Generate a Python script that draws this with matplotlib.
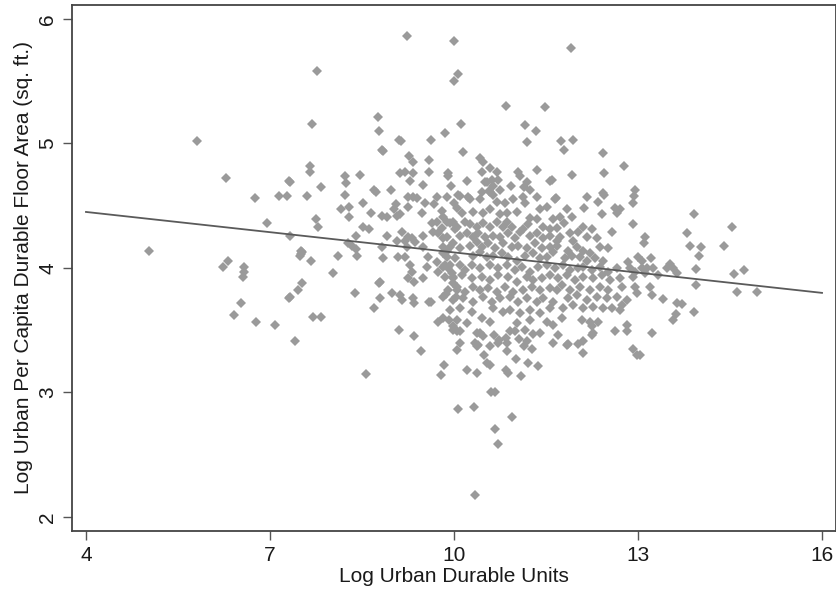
import matplotlib
matplotlib.use("Agg")
import matplotlib.pyplot as plt

# Values
log_durable_units = [
    5.03, 5.81, 6.28, 6.76, 7.15, 7.28, 7.31, 6.95,
    6.32, 6.23, 6.58, 6.58, 6.56, 7.51, 7.51, 7.52,
    7.46, 7.31, 6.53, 6.41, 6.77, 7.08, 7.41, 7.77,
    7.69, 7.65, 7.65, 7.33, 7.83, 8.22, 8.24, 8.22,
    8.47, 8.70, 8.73, 8.97, 9.23, 10.00, 10.07, 10.00,
    8.76, 8.78, 8.83, 9.10, 9.14, 9.27, 9.33, 9.59,
    9.62, 9.85, 10.11, 10.15, 9.12, 9.20, 9.33, 9.28,
    9.59, 9.50, 9.90, 9.90, 9.95, 10.21, 10.42, 10.47,
    10.46, 10.54, 10.46, 10.57, 7.60, 9.25, 9.33, 9.72,
    9.89, 10.10, 10.23, 11.91, 10.85, 11.48, 11.16, 11.34,
    11.19, 11.74, 11.94, 11.79, 12.43, 12.77, 11.35, 11.04,
    11.08, 11.92, 12.45, 11.57, 10.93, 10.75, 11.19, 11.14,
    11.24, 12.95, 12.94, 12.45, 12.17, 11.66, 10.59, 10.70,
    10.62, 10.72, 10.51, 10.64, 10.59, 13.91, 13.80, 14.53,
    13.85, 14.03, 14.00, 14.40, 13.11, 13.10, 13.21, 13.07,
    13.07, 13.15, 13.25, 13.11, 13.33, 13.47, 13.52, 13.57,
    13.64, 13.95, 13.95, 14.57, 14.73, 14.61, 14.94, 13.20,
    13.23, 13.41, 13.64, 13.72, 13.62, 13.57, 13.91, 13.23,
    13.03, 8.84, 8.16, 8.29, 8.29, 8.52, 8.65, 8.83,
    8.91, 9.05, 9.02, 9.07, 9.12, 9.40, 9.25, 9.48,
    9.53, 9.67, 10.00, 9.80, 9.82, 9.72, 9.89, 7.75,
    7.78, 8.52, 8.62, 8.91, 8.40, 8.27, 8.34, 8.40,
    8.42, 7.33, 7.52, 7.49, 7.67, 8.11, 8.03, 8.83,
    8.84, 9.07, 9.15, 9.20, 9.25, 9.32, 9.36, 9.23,
    9.09, 9.20, 9.28, 9.32, 9.25, 9.35, 9.50, 9.56,
    9.58, 9.50, 9.50, 9.64, 9.66, 9.74, 9.82, 9.80,
    9.98, 10.02, 9.89, 9.93, 9.82, 9.72, 9.74, 9.85,
    9.90, 9.97, 9.98, 9.98, 10.05, 9.87, 10.03, 8.79,
    8.78, 8.39, 8.79, 8.70, 8.99, 9.12, 9.15, 9.33,
    9.35, 9.59, 9.62, 7.33, 7.70, 7.83, 8.57, 9.10,
    9.35, 9.46, 9.74, 9.92, 9.98, 10.05, 10.05, 9.84,
    9.79, 10.21, 10.38, 10.10, 10.38, 10.42, 10.47, 10.34,
    10.39, 10.38, 10.65, 10.73, 10.72, 10.85, 11.00, 11.06,
    11.29, 11.14, 11.27, 10.86, 10.49, 10.54, 10.59, 11.01,
    11.21, 11.37, 10.85, 10.88, 11.09, 11.70, 11.84, 12.02,
    12.10, 12.10, 12.25, 12.63, 12.82, 12.92, 12.98, 10.60,
    10.67, 10.07, 10.33, 10.95, 10.67, 10.72, 10.34, 10.07,
    10.26, 10.42, 10.64, 10.70, 10.83, 10.96, 11.13, 11.16,
    11.35, 11.65, 11.40, 11.52, 10.05, 10.13, 10.31, 10.47,
    10.59, 10.75, 10.86, 11.03, 11.24, 11.35, 11.61, 9.93,
    10.05, 10.18, 10.26, 10.38, 10.47, 10.59, 10.70, 10.80,
    10.86, 10.95, 11.13, 11.21, 11.45, 11.57, 11.68, 9.89,
    10.10, 10.21, 10.31, 10.39, 10.51, 10.64, 10.75, 10.88,
    10.99, 11.08, 11.24, 11.35, 11.45, 11.57, 11.68, 9.82,
    9.98, 10.10, 10.26, 10.38, 10.46, 10.55, 10.67, 10.80,
    10.95, 11.04, 11.19, 11.32, 11.43, 11.57, 11.68, 9.89,
    10.02, 10.31, 10.42, 10.54, 10.64, 10.78, 10.88, 11.03,
    11.16, 11.29, 11.40, 11.52, 11.61, 9.82, 9.93, 10.10,
    10.18, 10.29, 10.42, 10.59, 10.72, 10.86, 10.99, 11.11,
    11.24, 11.37, 11.52, 11.65, 9.85, 9.98, 10.13, 10.29,
    10.46, 10.59, 10.72, 10.88, 11.03, 11.19, 11.29, 11.43,
    11.57, 11.70, 9.90, 10.05, 10.18, 10.31, 10.42, 10.55,
    10.70, 10.83, 10.96, 11.13, 11.27, 11.40, 11.57, 11.68,
    9.82, 9.98, 10.15, 10.31, 10.47, 10.62, 10.75, 10.91,
    11.04, 11.19, 11.35, 11.45, 11.61, 9.93, 10.10, 10.29,
    10.64, 10.80, 10.91, 11.08, 11.24, 11.40, 11.57, 9.82,
    10.05, 10.21, 10.46, 10.59, 11.03, 11.24, 11.52, 9.98,
    10.91, 11.16, 11.40, 10.10, 10.59, 10.86, 11.19, 11.61,
    11.60, 12.92, 12.43, 12.35, 12.12, 12.63, 12.71, 12.66,
    11.84, 11.73, 11.92, 12.41, 11.79, 12.10, 12.25, 12.02,
    12.92, 12.58, 11.73, 11.89, 11.94, 12.17, 12.33, 12.38,
    12.51, 11.86, 12.01, 12.10, 12.22, 11.81, 11.92, 12.05,
    12.17, 12.30, 12.43, 13.00, 12.84, 11.78, 11.89, 12.02,
    12.10, 12.25, 12.38, 12.51, 12.66, 12.87, 12.95, 11.84,
    11.97, 12.10, 12.27, 12.41, 12.54, 12.71, 12.92, 11.76,
    11.89, 12.05, 12.22, 12.38, 12.51, 12.74, 12.95, 11.86,
    12.01, 12.17, 12.33, 12.49, 12.66, 12.82, 12.98, 11.78,
    11.94, 12.10, 12.27, 12.43, 12.74, 12.58, 12.71, 11.76,
    12.09, 12.22, 12.35, 11.61, 12.25, 12.27, 12.82, 11.86,
]

log_floor_area = [
    4.14, 5.02, 4.72, 4.56, 4.58, 4.58, 4.70, 4.36,
    4.06, 4.01, 4.01, 3.97, 3.93, 4.14, 4.11, 3.88,
    3.82, 3.76, 3.72, 3.62, 3.57, 3.54, 3.41, 5.58,
    5.16, 4.82, 4.77, 4.69, 4.65, 4.74, 4.68, 4.59,
    4.75, 4.63, 4.61, 4.63, 5.86, 5.82, 5.56, 5.50,
    5.21, 5.10, 4.95, 5.03, 5.02, 4.90, 4.85, 4.87,
    5.03, 5.08, 5.16, 4.93, 4.76, 4.77, 4.76, 4.70,
    4.77, 4.67, 4.76, 4.74, 4.66, 4.70, 4.88, 4.85,
    4.77, 4.69, 4.61, 4.62, 4.58, 4.57, 4.57, 4.57,
    4.57, 4.58, 4.57, 5.77, 5.30, 5.29, 5.15, 5.10,
    5.01, 5.02, 5.03, 4.95, 4.92, 4.82, 4.79, 4.77,
    4.74, 4.75, 4.76, 4.70, 4.66, 4.63, 4.69, 4.65,
    4.63, 4.63, 4.58, 4.59, 4.57, 4.56, 4.80, 4.77,
    4.71, 4.71, 4.69, 4.66, 4.61, 4.43, 4.28, 4.33,
    4.18, 4.17, 4.10, 4.18, 4.25, 4.20, 4.08, 4.06,
    4.00, 4.00, 4.00, 3.96, 3.94, 4.00, 4.03, 4.00,
    3.96, 3.99, 3.86, 3.95, 3.98, 3.81, 3.81, 3.85,
    3.78, 3.75, 3.72, 3.71, 3.63, 3.58, 3.65, 3.48,
    3.30, 4.94, 4.47, 4.49, 4.41, 4.52, 4.44, 4.42,
    4.41, 4.51, 4.47, 4.42, 4.43, 4.56, 4.49, 4.44,
    4.52, 4.51, 4.52, 4.46, 4.41, 4.37, 4.37, 4.39,
    4.33, 4.33, 4.31, 4.26, 4.26, 4.20, 4.18, 4.15,
    4.10, 4.26, 4.13, 4.10, 4.06, 4.10, 3.96, 4.17,
    4.08, 4.22, 4.29, 4.22, 4.25, 4.24, 4.21, 4.17,
    4.09, 4.09, 4.02, 3.97, 3.92, 3.89, 3.92, 4.01,
    4.09, 4.17, 4.26, 4.36, 4.29, 4.28, 4.24, 4.32,
    4.37, 4.31, 4.14, 4.17, 4.12, 4.05, 3.97, 4.02,
    4.00, 3.96, 3.93, 3.88, 3.82, 3.79, 3.77, 3.89,
    3.88, 3.80, 3.76, 3.68, 3.80, 3.78, 3.74, 3.76,
    3.72, 3.73, 3.73, 3.77, 3.61, 3.61, 3.15, 3.50,
    3.45, 3.33, 3.57, 3.58, 3.53, 3.49, 3.34, 3.22,
    3.14, 3.18, 3.16, 3.49, 3.48, 3.48, 3.45, 3.40,
    3.38, 3.37, 3.46, 3.42, 3.40, 3.44, 3.49, 3.43,
    3.47, 3.37, 3.35, 3.33, 3.30, 3.24, 3.22, 3.27,
    3.24, 3.21, 3.18, 3.16, 3.13, 3.46, 3.38, 3.39,
    3.41, 3.32, 3.46, 3.49, 3.49, 3.35, 3.30, 3.00,
    3.00, 2.87, 2.88, 2.80, 2.71, 2.59, 2.18, 4.59,
    4.55, 4.55, 4.59, 4.53, 4.52, 4.55, 4.57, 4.52,
    4.57, 4.55, 4.47, 4.49, 4.48, 4.44, 4.45, 4.44,
    4.47, 4.43, 4.44, 4.45, 4.40, 4.39, 4.39, 4.36,
    4.33, 4.37, 4.35, 4.33, 4.36, 4.33, 4.37, 4.33,
    4.37, 4.33, 4.31, 4.35, 4.33, 4.31, 4.32, 4.25,
    4.26, 4.28, 4.25, 4.28, 4.25, 4.26, 4.25, 4.28,
    4.24, 4.29, 4.26, 4.28, 4.24, 4.26, 4.22, 4.17,
    4.20, 4.16, 4.18, 4.21, 4.17, 4.20, 4.16, 4.20,
    4.17, 4.18, 4.16, 4.20, 4.16, 4.17, 4.18, 4.09,
    4.08, 4.10, 4.13, 4.09, 4.10, 4.12, 4.09, 4.06,
    4.10, 4.12, 4.08, 4.09, 4.13, 4.01, 4.02, 4.02,
    3.98, 4.02, 4.00, 4.02, 4.00, 4.02, 3.98, 4.01,
    3.97, 4.01, 4.02, 4.00, 3.93, 3.92, 3.94, 3.92,
    3.93, 3.90, 3.94, 3.93, 3.89, 3.93, 3.90, 3.92,
    3.94, 3.92, 3.82, 3.85, 3.81, 3.85, 3.82, 3.84,
    3.81, 3.85, 3.81, 3.82, 3.85, 3.82, 3.84, 3.82,
    3.77, 3.74, 3.76, 3.73, 3.77, 3.73, 3.76, 3.77,
    3.73, 3.76, 3.73, 3.76, 3.73, 3.66, 3.68, 3.65,
    3.68, 3.65, 3.66, 3.64, 3.66, 3.64, 3.68, 3.60,
    3.58, 3.56, 3.60, 3.57, 3.56, 3.58, 3.57, 3.50,
    3.49, 3.50, 3.48, 3.40, 3.37, 3.40, 3.41, 3.40,
    4.71, 4.52, 4.60, 4.53, 4.48, 4.48, 4.47, 4.44,
    4.47, 4.41, 4.41, 4.43, 4.36, 4.33, 4.31, 4.29,
    4.35, 4.29, 4.25, 4.28, 4.22, 4.25, 4.24, 4.17,
    4.16, 4.14, 4.17, 4.14, 4.12, 4.08, 4.10, 4.09,
    4.06, 4.08, 4.06, 4.09, 4.05, 4.02, 3.98, 4.00,
    4.01, 3.98, 4.01, 3.97, 4.00, 4.00, 3.97, 3.94,
    3.90, 3.93, 3.92, 3.94, 3.90, 3.92, 3.93, 3.86,
    3.82, 3.85, 3.82, 3.85, 3.82, 3.85, 3.85, 3.76,
    3.78, 3.74, 3.77, 3.76, 3.77, 3.74, 3.80, 3.68,
    3.70, 3.68, 3.69, 3.68, 3.70, 3.68, 3.66, 3.60,
    3.58, 3.57, 3.57, 3.54, 3.53, 3.48, 3.54, 3.39,
]

# Fitted line end points
fit_x = [4.0, 16.0]
fit_y = [4.45, 3.80]

x_ticks = [4, 7, 10, 13, 16]
y_ticks = [2, 3, 4, 5, 6]
x_label = "Log Urban Durable Units"
y_label = "Log Urban Per Capita Durable Floor Area (sq. ft.)"

plt.rcParams['font.family'] = ['Liberation Sans', 'DejaVu Sans']

fig = plt.figure(figsize=(8.37, 5.96), dpi=100)
ax = fig.add_axes([72 / 837, 1 - 531 / 596, (836 - 72) / 837, (531 - 5) / 596])

ax.plot(log_durable_units, log_floor_area, linestyle='none', marker='D',
        markersize=4.8, markerfacecolor='#9a9a9a', markeredgewidth=0,
        color='#9a9a9a', zorder=2)
ax.plot(fit_x, fit_y, color='#5a5a5a', linewidth=1.3, zorder=3)

ax.set_xlim(3.772, 16.228)
ax.set_ylim(1.8876, 6.112)
ax.set_xticks(x_ticks)
ax.set_yticks(y_ticks)

for s in ax.spines.values():
    s.set_color('#444444')
    s.set_linewidth(1.3)

ax.tick_params(axis='both', direction='out', length=6.5, width=1.0,
               color='#555555', labelsize=15, labelcolor='#1a1a1a', pad=4)
for lbl in ax.get_yticklabels():
    lbl.set_rotation(90)
    lbl.set_va('center')

ax.set_xlabel(x_label, fontsize=15, color='#1a1a1a', labelpad=2)
ax.set_ylabel(y_label, fontsize=15, color='#1a1a1a', labelpad=4)

fig.savefig("out.png", dpi=100, facecolor='white')
